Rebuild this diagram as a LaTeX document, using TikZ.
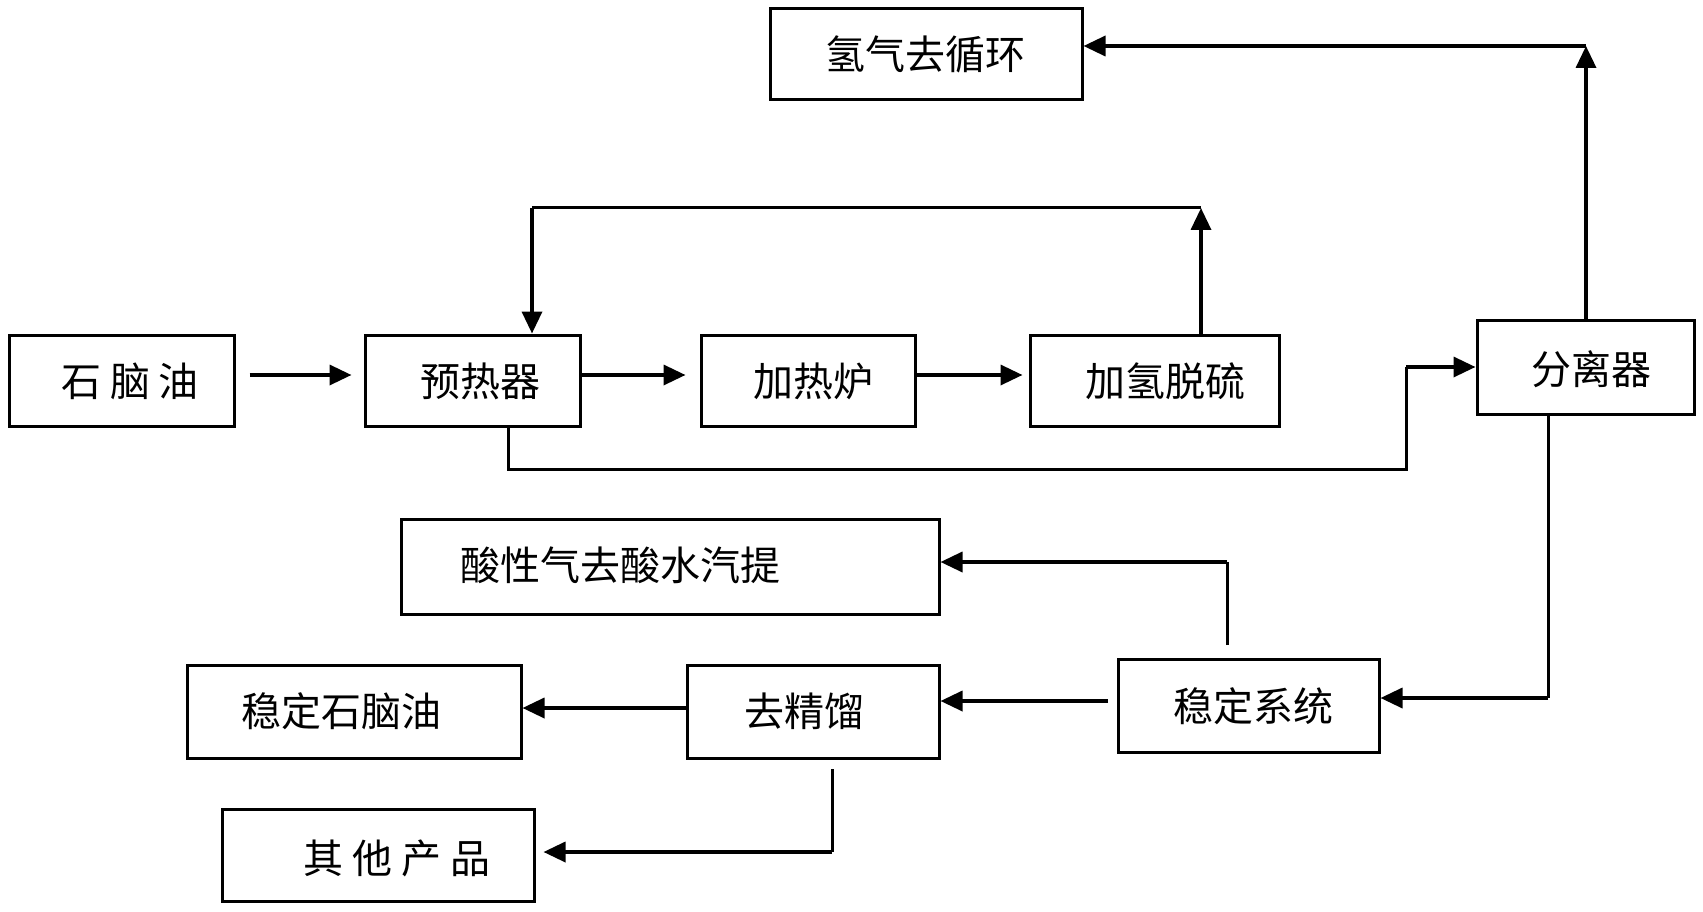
\documentclass[tikz,border=0pt]{standalone}
\usepackage{fontspec}
\newfontfamily\cjk{Noto Sans CJK SC}
\usetikzlibrary{arrows.meta}
\begin{document}
\begin{tikzpicture}[x=1pt,y=-1pt,
  box/.style={draw=black, line width=3pt, rectangle, inner sep=0pt},
  txt/.style={font=\cjk\fontsize{40}{42}\selectfont, inner sep=0pt},
  flow/.style={line width=3.5pt, -{Triangle[length=22pt,width=20pt]}},
  plain/.style={line width=3pt}]
\useasboundingbox (0,0) rectangle (1703,912);
% boxes
\node[box, minimum width=312, minimum height=91] (h2) at (926,54.5) {};
\node[box, minimum width=225, minimum height=91] (naph) at (121.5,380.5) {};
\node[box, minimum width=215, minimum height=91] (pre) at (472.5,380.5) {};
\node[box, minimum width=214, minimum height=91] (fur) at (808,380.5) {};
\node[box, minimum width=249, minimum height=91] (hds) at (1154.5,380.5) {};
\node[box, minimum width=217, minimum height=94] (sep) at (1585.5,367) {};
\node[box, minimum width=538, minimum height=95] (acid) at (670,566.5) {};
\node[box, minimum width=261, minimum height=93] (stab) at (1248.5,705.5) {};
\node[box, minimum width=334, minimum height=93] (stn) at (354,711.5) {};
\node[box, minimum width=252, minimum height=93] (dist) at (813,711.5) {};
\node[box, minimum width=312, minimum height=92] (oth) at (378,855) {};
% texts
\node[txt] (t1) at (925,54) {氢气去循环};
\node[txt] (t2) at (130,381) {石 脑 油};
\node[txt] (t3) at (480,381) {预热器};
\node[txt] (t4) at (813,381) {加热炉};
\node[txt] (t5) at (1165,381) {加氢脱硫};
\node[txt] (t6) at (1591,369) {分离器};
\node[txt] (t7) at (620,565) {酸性气去酸水汽提};
\node[txt] (t8) at (1253,706) {稳定系统};
\node[txt] (t9) at (341,711) {稳定石脑油};
\node[txt] (t10) at (804,711) {去精馏};
\node[txt] (t11) at (397,858) {其 他 产 品};
% coordinates
\coordinate (c1) at (1201,208);
\coordinate (c2) at (532,208);
\coordinate (c3) at (508,469);
\coordinate (c4) at (1406,469);
\coordinate (c5) at (1406,367);
\coordinate (c6) at (1586,46);
\coordinate (c7) at (1548,698);
\coordinate (c8) at (1227,562);
\coordinate (c9) at (1227,645);
\coordinate (c10) at (832,769);
\coordinate (c11) at (832,852);
\coordinate (c12) at (1108,701);
% connectors
\draw[flow, shorten <=14pt, shorten >=12pt] (naph.east |- 0,375) -- (pre.west |- 0,375);
\draw[flow, shorten >=14pt] (pre.east |- 0,375) -- (fur.west |- 0,375);
\draw[flow, shorten >=6pt] (fur.east |- 0,375) -- (hds.west |- 0,375);
\draw[flow] (hds.north -| c1) -- (c1);
\draw[plain] (c1) -- (c2);
\draw[flow] (c2) -- (pre.north -| c2);
\draw[plain] (pre.south -| c3) -- (c3) -- (c4) -- (c5);
\draw[flow] (c5) -- (sep.west |- c5);
\draw[flow] (sep.north -| c6) -- (c6);
\draw[flow] (c6) -- (h2.east |- c6);
\draw[plain] (sep.south -| c7) -- (c7);
\draw[flow] (c7) -- (stab.east |- c7);
\draw[plain] (c9) -- (c8);
\draw[flow] (c8) -- (acid.east |- c8);
\draw[flow] (c12) -- (dist.east |- c12);
\draw[flow] (dist.west |- 0,708) -- (stn.east |- 0,708);
\draw[plain] (c10) -- (c11);
\draw[flow, shorten >=8pt] (c11) -- (oth.east |- c11);
\end{tikzpicture}
\end{document}
